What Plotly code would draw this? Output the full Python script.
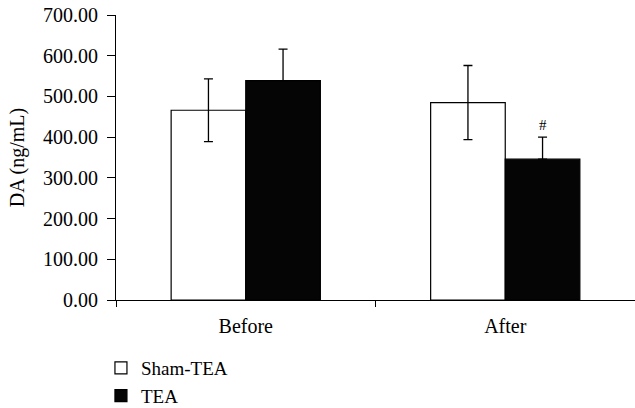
import plotly.graph_objects as go

categories = ["Before", "After"]
sham_values = [466, 485]
sham_errors = [77, 91]
tea_values = [539, 346]
tea_errors = [77, 54]
tea_errors_minus = [0, 0]
series_names = ["Sham-TEA", "TEA"]
y_ticks = [0, 100, 200, 300, 400, 500, 600, 700]
y_tick_labels = [f"{v:.2f}" for v in y_ticks]
marker_text = "#"

FONT = "Liberation Serif, Times New Roman, serif"
FS = 20

fig = go.Figure()
fig.add_trace(go.Bar(
    x=categories, y=sham_values, name=series_names[0],
    marker=dict(color="white", line=dict(color="black", width=1.2)),
    error_y=dict(type="data", array=sham_errors, visible=True,
                 color="black", thickness=1.3, width=4.5),
))
fig.add_trace(go.Bar(
    x=categories, y=tea_values, name=series_names[1],
    marker=dict(color="#050505", line=dict(color="black", width=1.2)),
    error_y=dict(type="data", array=tea_errors, arrayminus=tea_errors_minus,
                 symmetric=False, visible=True,
                 color="black", thickness=1.3, width=4.5),
))

fig.add_annotation(
    x=categories[1], y=tea_values[1] + tea_errors[1], text=marker_text,
    showarrow=False, xshift=37.5, yshift=12, yanchor="middle",
    font=dict(family=FONT, size=15, color="black"),
)

fig.update_layout(
    width=635, height=408,
    margin=dict(l=116, r=0, t=15, b=108, autoexpand=False),
    paper_bgcolor="white", plot_bgcolor="white",
    barmode="group", bargap=0.425, bargroupgap=0,
    font=dict(family=FONT, size=FS, color="black"),
    showlegend=True,
    legend=dict(x=-0.029, y=-0.172, xanchor="left", yanchor="top",
                orientation="v", font=dict(family=FONT, size=19),
                bgcolor="rgba(0,0,0,0)", itemwidth=30),
)
fig.update_xaxes(
    type="category", range=[-0.5, 1.5], tickson="boundaries",
    showline=True, linecolor="black", linewidth=1.2,
    ticks="outside", ticklen=6, tickcolor="black", tickwidth=1.2,
    showgrid=False, zeroline=False, automargin=False,
    ticklabelstandoff=8,
    tickfont=dict(family=FONT, size=FS),
)
fig.update_yaxes(
    range=[0, 700], tickvals=y_ticks, ticktext=y_tick_labels,
    showline=True, linecolor="black", linewidth=1.2,
    ticks="outside", ticklen=8, tickcolor="black", tickwidth=1.2,
    showgrid=False, zeroline=False, automargin=False,
    ticklabelstandoff=5,
    title=dict(text="DA (ng/mL)", font=dict(family=FONT, size=FS), standoff=12),
    tickfont=dict(family=FONT, size=FS),
)

fig.write_html("out.html",
               config={"displayModeBar": False},
               post_script="document.body.style.margin='0';")
